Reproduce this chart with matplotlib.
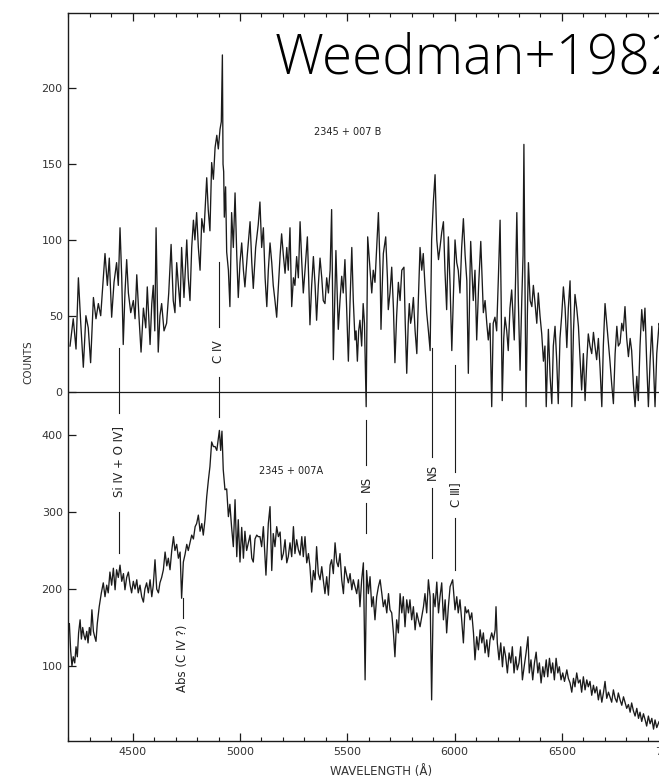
import numpy as np
import matplotlib
matplotlib.use('Agg')
import matplotlib.pyplot as plt
from matplotlib.ticker import MultipleLocator

# ---------------- data ----------------
# 2345+007 B (upper spectrum), counts
wl_B = [4208, 4223, 4236, 4247, 4258, 4270, 4282, 4293, 4304, 4317, 4329, 4340, 4351, 4363, 4371,
        4382, 4391, 4402, 4413, 4425, 4433, 4441, 4449, 4456, 4464, 4472, 4480, 4491, 4503, 4511,
        4519, 4529, 4539, 4550, 4561, 4568, 4581, 4589, 4596, 4603, 4609, 4619, 4627, 4635, 4646,
        4658, 4668, 4679, 4689, 4697, 4705, 4713, 4721, 4728, 4739, 4752, 4759, 4767, 4775, 4783,
        4790, 4798, 4806, 4814, 4822, 4832, 4845, 4852, 4860, 4868, 4876, 4884, 4892, 4899, 4907,
        4913, 4918, 4921, 4924, 4927, 4933, 4938, 4946, 4953, 4961, 4969, 4977, 4985, 4992, 5000,
        5008, 5016, 5023, 5034, 5047, 5055, 5062, 5073, 5085, 5093, 5101, 5109, 5117, 5125, 5132,
        5140, 5148, 5155, 5163, 5171, 5179, 5187, 5194, 5202, 5210, 5218, 5225, 5233, 5241, 5249,
        5256, 5264, 5272, 5280, 5288, 5295, 5303, 5314, 5320, 5326, 5334, 5342, 5350, 5357, 5365,
        5373, 5381, 5388, 5396, 5404, 5412, 5420, 5427, 5435, 5443, 5447, 5454, 5458, 5466, 5474,
        5481, 5489, 5497, 5505, 5513, 5521, 5528, 5536, 5541, 5547, 5553, 5559, 5567, 5574, 5580,
        5588, 5595, 5606, 5614, 5621, 5629, 5637, 5645, 5653, 5657, 5663, 5668, 5679, 5687, 5691,
        5699, 5707, 5715, 5722, 5730, 5738, 5746, 5754, 5764, 5770, 5777, 5784, 5789, 5795, 5800,
        5808, 5816, 5824, 5831, 5839, 5847, 5854, 5862, 5870, 5878, 5886, 5893, 5901, 5909, 5917,
        5925, 5932, 5940, 5948, 5955, 5963, 5971, 5979, 5987, 5994, 6002, 6010, 6017, 6025, 6033,
        6041, 6049, 6057, 6064, 6072, 6075, 6081, 6087, 6095, 6103, 6112, 6122, 6128, 6134, 6142,
        6150, 6157, 6165, 6173, 6180, 6188, 6196, 6204, 6212, 6217, 6222, 6229, 6235, 6243, 6250,
        6258, 6266, 6274, 6278, 6285, 6290, 6297, 6305, 6313, 6319, 6323, 6328, 6333, 6339, 6344,
        6352, 6360, 6367, 6375, 6383, 6390, 6398, 6406, 6414, 6421, 6427, 6433, 6437, 6445, 6453,
        6460, 6468, 6476, 6483, 6491, 6499, 6507, 6515, 6523, 6530, 6538, 6543, 6546, 6554, 6561,
        6569, 6577, 6585, 6592, 6600, 6608, 6616, 6623, 6631, 6639, 6647, 6654, 6662, 6670, 6678,
        6686, 6693, 6701, 6709, 6717, 6724, 6732, 6740, 6748, 6756, 6763, 6771, 6779, 6786, 6794,
        6802, 6810, 6818, 6825, 6833, 6841, 6849, 6856, 6864, 6872, 6880, 6887, 6895, 6903, 6911,
        6919, 6926, 6934, 6942, 6953, 6975]
cnt_B = [30, 48, 28, 75, 45, 16, 50, 42, 19, 62, 48, 58, 50, 75, 91,
         70, 88, 49, 72, 85, 70, 108, 75, 31, 65, 87, 65, 52, 60, 48,
         77, 50, 26, 55, 42, 69, 31, 58, 70, 40, 108, 26, 50, 58, 40,
         45, 65, 97, 60, 52, 85, 70, 56, 95, 62, 100, 75, 60, 95, 113,
         100, 118, 95, 80, 114, 105, 141, 120, 106, 151, 140, 161, 169, 160, 173,
         178, 222, 150, 145, 115, 135, 92, 80, 56, 118, 95, 131, 90, 62, 85,
         98, 80, 69, 90, 112, 85, 68, 95, 110, 125, 95, 108, 75, 56, 80,
         98, 85, 70, 60, 49, 70, 90, 104, 90, 78, 95, 80, 108, 56, 75,
         70, 89, 75, 112, 85, 65, 80, 102, 75, 44, 70, 89, 70, 47, 70,
         88, 75, 60, 58, 75, 65, 80, 120, 21, 70, 93, 60, 41, 60, 76,
         65, 87, 55, 20, 60, 95, 60, 34, 40, 20, 40, 47, 30, 58, 45,
         -10, 102, 80, 65, 80, 72, 95, 118, 80, 41, 70, 91, 102, 75, 54,
         65, 82, 55, 19, 50, 72, 60, 80, 82, 45, 12, 45, 58, 45, 49,
         62, 40, 25, 60, 95, 80, 91, 70, 52, 40, 27, 100, 125, 143, 100,
         87, 95, 105, 112, 80, 54, 102, 70, 27, 60, 100, 85, 80, 65, 95,
         114, 90, 73, 12, 80, 99, 80, 60, 80, 34, 70, 99, 75, 52, 60,
         45, 34, 45, -10, 45, 49, 40, 75, 113, 60, -6, 35, 49, 40, 27,
         55, 67, 45, 34, 80, 118, 60, 14, 60, 90, 163, 70, -10, 50, 85,
         60, 56, 70, 58, 45, 65, 50, 38, 20, 30, -10, 20, 41, 10, -8,
         30, 43, 20, -8, 35, 50, 69, 55, 29, 55, 73, 40, -10, 40, 64,
         55, 43, 20, 1, 25, -6, 20, 38, 30, 25, 39, 30, 21, 35, 15,
         -10, 30, 58, 45, 32, 20, 5, -8, 25, 43, 30, 32, 45, 40, 56,
         35, 23, 35, 27, 5, -10, 10, -6, 30, 54, 40, 55, 20, -10, 20,
         43, 20, -10, 25, 45, 30]

# 2345+007 A (lower spectrum), counts
wl_A = [4205, 4211, 4217, 4223, 4230, 4236, 4242, 4248, 4255, 4261, 4267, 4273, 4279, 4286, 4292,
        4298, 4304, 4310, 4317, 4323, 4329, 4335, 4344, 4354, 4363, 4371, 4379, 4386, 4394, 4402,
        4410, 4418, 4425, 4433, 4441, 4449, 4457, 4464, 4472, 4480, 4488, 4495, 4503, 4511, 4519,
        4526, 4534, 4542, 4550, 4557, 4565, 4573, 4581, 4589, 4596, 4604, 4612, 4620, 4627, 4635,
        4643, 4651, 4659, 4666, 4674, 4682, 4690, 4697, 4705, 4713, 4721, 4728, 4736, 4744, 4752,
        4759, 4767, 4775, 4783, 4791, 4798, 4806, 4814, 4822, 4829, 4837, 4845, 4853, 4860, 4868,
        4876, 4884, 4892, 4899, 4904, 4910, 4916, 4922, 4930, 4938, 4946, 4953, 4961, 4969, 4977,
        4985, 4992, 5000, 5008, 5016, 5023, 5031, 5039, 5047, 5055, 5062, 5070, 5078, 5085, 5093,
        5101, 5109, 5121, 5132, 5140, 5148, 5155, 5163, 5171, 5179, 5187, 5194, 5202, 5210, 5218,
        5225, 5233, 5241, 5249, 5256, 5264, 5272, 5280, 5288, 5295, 5303, 5311, 5319, 5326, 5334,
        5342, 5350, 5357, 5365, 5373, 5381, 5388, 5396, 5404, 5412, 5420, 5427, 5435, 5443, 5451,
        5458, 5466, 5474, 5482, 5489, 5497, 5505, 5513, 5521, 5528, 5536, 5544, 5552, 5559, 5567,
        5575, 5583, 5590, 5598, 5606, 5614, 5621, 5629, 5637, 5645, 5653, 5661, 5668, 5676, 5684,
        5692, 5699, 5707, 5715, 5722, 5730, 5738, 5746, 5754, 5761, 5769, 5777, 5785, 5792, 5800,
        5808, 5816, 5824, 5831, 5839, 5847, 5855, 5862, 5870, 5878, 5886, 5893, 5901, 5909, 5917,
        5925, 5932, 5940, 5948, 5956, 5963, 5971, 5979, 5991, 6002, 6010, 6017, 6025, 6033, 6041,
        6049, 6056, 6064, 6072, 6080, 6088, 6095, 6103, 6111, 6119, 6127, 6134, 6142, 6150, 6158,
        6165, 6173, 6181, 6189, 6193, 6199, 6207, 6215, 6223, 6230, 6238, 6246, 6254, 6262, 6269,
        6277, 6285, 6292, 6300, 6308, 6316, 6324, 6333, 6342, 6348, 6356, 6364, 6372, 6380, 6388,
        6395, 6403, 6411, 6418, 6427, 6434, 6442, 6450, 6457, 6465, 6473, 6481, 6488, 6496, 6504,
        6512, 6523, 6530, 6538, 6546, 6554, 6561, 6569, 6577, 6585, 6592, 6600, 6608, 6616, 6623,
        6631, 6639, 6647, 6654, 6662, 6670, 6678, 6686, 6694, 6701, 6709, 6717, 6724, 6732, 6740,
        6748, 6756, 6763, 6771, 6779, 6787, 6794, 6802, 6810, 6818, 6825, 6833, 6841, 6849, 6857,
        6864, 6872, 6880, 6888, 6895, 6903, 6911, 6919, 6927, 6934, 6942, 6953, 6975]
cnt_A = [155, 120, 100, 112, 104, 125, 112, 143, 160, 135, 150, 140, 134, 145, 130,
         150, 140, 173, 145, 138, 132, 155, 177, 195, 208, 190, 205, 195, 222, 205,
         227, 199, 225, 215, 231, 210, 220, 199, 215, 222, 205, 195, 210, 200, 212,
         195, 205, 190, 183, 200, 208, 195, 212, 190, 205, 238, 200, 195, 208, 215,
         225, 248, 230, 240, 225, 250, 268, 250, 258, 240, 248, 188, 235, 245, 258,
         250, 260, 270, 265, 281, 285, 296, 275, 285, 270, 290, 320, 342, 359, 391,
         385, 385, 380, 395, 406, 380, 405, 355, 329, 330, 294, 310, 280, 255, 316,
         242, 290, 235, 280, 240, 275, 250, 260, 270, 240, 235, 265, 270, 268, 268,
         255, 281, 218, 285, 307, 224, 272, 255, 281, 268, 274, 238, 246, 264, 234,
         242, 260, 242, 281, 246, 264, 251, 244, 268, 242, 268, 234, 246, 229, 196,
         224, 212, 255, 220, 212, 229, 212, 194, 216, 192, 231, 238, 220, 260, 235,
         229, 246, 212, 194, 229, 218, 208, 220, 199, 212, 203, 194, 212, 177, 212,
         234, 82, 224, 194, 216, 177, 190, 160, 190, 203, 212, 194, 177, 186, 169,
         194, 173, 169, 143, 112, 160, 143, 194, 169, 190, 151, 186, 169, 186, 160,
         177, 147, 169, 160, 151, 164, 177, 194, 169, 212, 190, 56, 194, 177, 209,
         169, 190, 208, 160, 186, 143, 177, 203, 212, 173, 190, 169, 186, 160, 130,
         177, 169, 173, 160, 169, 143, 108, 138, 121, 147, 130, 143, 117, 134, 112,
         134, 143, 134, 147, 177, 130, 108, 130, 99, 125, 112, 91, 117, 104, 125,
         91, 112, 95, 104, 125, 82, 99, 117, 138, 91, 108, 82, 104, 118, 91,
         104, 78, 99, 86, 108, 86, 110, 91, 104, 82, 110, 91, 99, 82, 91,
         80, 95, 84, 78, 66, 84, 73, 91, 78, 82, 66, 86, 69, 82, 73,
         80, 62, 75, 65, 73, 56, 69, 53, 66, 80, 58, 66, 60, 53, 69,
         58, 53, 65, 56, 49, 60, 53, 45, 50, 40, 52, 42, 35, 45, 32,
         40, 28, 38, 30, 22, 35, 25, 32, 18, 30, 20, 28, 25]

top_tick_values = [0, 50, 100, 150, 200]
bottom_tick_values = [100, 200, 300, 400]
x_tick_values = [4500, 5000, 5500, 6000, 6500, 7000]

# line identifications: wavelength, label
line_ids = [
    (4436, 'Si Ⅳ + O Ⅳ]'),
    (4902, 'C Ⅳ'),
    (4733, 'Abs (C Ⅳ ?)'),
    (5588, 'NS'),
    (5896, 'NS'),
    (6003, 'C Ⅲ]'),
]

# ---------------- layout (vertical offset of the upper spectrum) ----------------
B_ZERO = 456.5      # axis position of B's zero line (in A-count units)
B_SCALE = 1.969     # B counts -> A-count units

def yB(v):
    return B_ZERO + B_SCALE * np.asarray(v, dtype=float)

plt.rcParams['font.family'] = ['DejaVu Sans', 'Noto Sans CJK JP']

fig = plt.figure(figsize=(6.59, 7.79), dpi=100)
ax = fig.add_axes([68.3 / 659, 38 / 779, (669.2 - 68.3) / 659, (741 - 13.3) / 779])
ax.set_xlim(4200, 7000)
ax.set_ylim(2.6, 947.7)

ink = '#1b1b1b'
ax.plot(wl_A, cnt_A, color=ink, lw=0.95)
ax.plot(wl_B, yB(cnt_B), color=ink, lw=0.95)
ax.axhline(B_ZERO, color=ink, lw=0.9)

# ticks
yt = list(bottom_tick_values) + list(yB(top_tick_values))
yl = [str(v) for v in bottom_tick_values] + [str(v) for v in top_tick_values]
ax.set_yticks(yt)
ax.set_yticklabels(yl)
ax.set_xticks(x_tick_values)
ax.xaxis.set_minor_locator(MultipleLocator(100))
ax.tick_params(axis='both', which='major', direction='in', length=6, width=0.9,
               labelsize=8, colors=ink, labelcolor='#333333', pad=4)
ax.tick_params(axis='x', which='minor', direction='in', length=3, width=0.8, top=True, colors=ink)
ax.tick_params(axis='x', which='major', top=True)
for s in ax.spines.values():
    s.set_linewidth(1.0)
    s.set_color(ink)

# marker segments and vertical labels
lab_kw = dict(rotation=90, ha='center', va='center', fontsize=8.5, color='#222222')
seg_kw = dict(color=ink, lw=0.8)
# Si IV + O IV]
ax.plot([4436, 4436], [513, 428.6], **seg_kw)
ax.plot([4436, 4436], [300, 246.8], **seg_kw)
ax.text(4436, 365, line_ids[0][1], **lab_kw)
# C IV
ax.plot([4902, 4902], [624.7, 540.3], **seg_kw)
ax.plot([4902, 4902], [475.3, 423.4], **seg_kw)
ax.text(4902, 507.8, line_ids[1][1], **lab_kw)
# Abs (C IV ?)
ax.plot([4733, 4733], [188.3, 162.3], **seg_kw)
ax.text(4733, 110.4, line_ids[2][1], **lab_kw)
# NS 5577
ax.plot([5588, 5588], [419.5, 361], **seg_kw)
ax.plot([5588, 5588], [311.7, 272.7], **seg_kw)
ax.text(5588, 336, line_ids[3][1], **lab_kw)
# NS 5890
ax.plot([5896, 5896], [513, 371.4], **seg_kw)
ax.plot([5896, 5896], [331, 240], **seg_kw)
ax.text(5896, 352, line_ids[4][1], **lab_kw)
# C III]
ax.plot([6003, 6003], [491, 352], **seg_kw)
ax.plot([6003, 6003], [292, 224.7], **seg_kw)
ax.text(6003, 323, line_ids[5][1], **lab_kw)

# object names
ax.text(5503, 793.5, '2345 + 007 B', ha='center', va='center', fontsize=7, color='#222222')
ax.text(5238, 353, '2345 + 007A', ha='center', va='center', fontsize=7, color='#222222')

# axis titles
fig.text(28 / 659, 1 - 362 / 779, 'COUNTS', rotation=90, ha='center', va='center',
         fontsize=7.5, color='#333333')
fig.text(381 / 659, 1 - 771.5 / 779, 'WAVELENGTH (Å)', ha='center', va='center',
         fontsize=8.5, color='#333333')

# overlay title
fig.text(275 / 659, 1 - 58.5 / 779, 'Weedman+1982', ha='left', va='center',
         fontsize=39.5, color='black', family=['Open Sans', 'DejaVu Sans'], fontweight=300)

fig.savefig('out.png', dpi=100)
